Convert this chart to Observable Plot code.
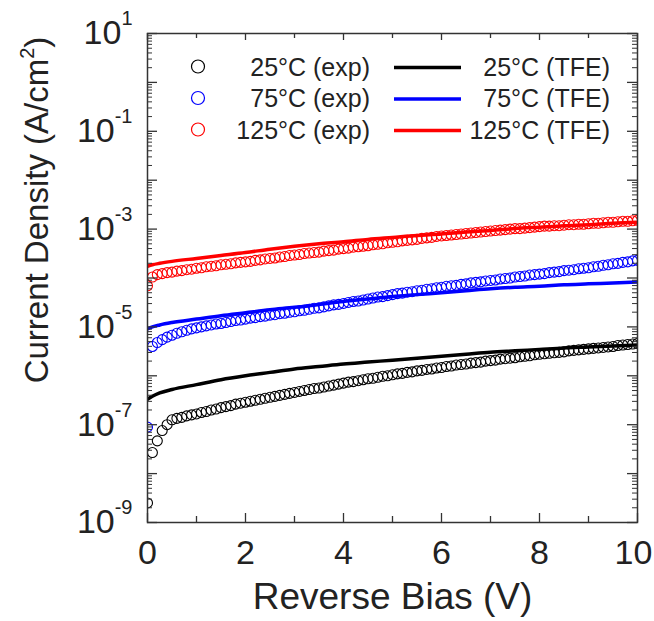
<!DOCTYPE html>
<html>
<head>
<meta charset="utf-8">
<script src="https://cdn.jsdelivr.net/npm/d3@7"></script>
<script src="https://cdn.jsdelivr.net/npm/@observablehq/plot@0.6"></script>
<style>
  body { margin: 0; background: #fff; }
  #chart { width: 654px; height: 621px; }
</style>
</head>
<body>
<div id="chart"></div>
<script>
// ---------- data ----------
const temps = ["25°C", "75°C", "125°C"];
const colors = ["#000000", "#0000ff", "#ff0000"];

// reverse bias of the measured points (V)
const biasExp = [0,0.1,0.2,0.3,0.4,0.5,0.6,0.7,0.8,0.9,
  1,1.1,1.2,1.3,1.4,1.5,1.6,1.7,1.8,1.9,
  2,2.1,2.2,2.3,2.4,2.5,2.6,2.7,2.8,2.9,
  3,3.1,3.2,3.3,3.4,3.5,3.6,3.7,3.8,3.9,
  4,4.1,4.2,4.3,4.4,4.5,4.6,4.7,4.8,4.9,
  5,5.1,5.2,5.3,5.4,5.5,5.6,5.7,5.8,5.9,
  6,6.1,6.2,6.3,6.4,6.5,6.6,6.7,6.8,6.9,
  7,7.1,7.2,7.3,7.4,7.5,7.6,7.7,7.8,7.9,
  8,8.1,8.2,8.3,8.4,8.5,8.6,8.7,8.8,8.9,
  9,9.1,9.2,9.3,9.4,9.5,9.6,9.7,9.8,9.9,
  10];

// measured current density, as log10 of J (A/cm^2)
const exp25Log = [-8.60,-7.57,-7.33,-7.12,-7.00,-6.90,-6.87,-6.85,-6.82,-6.80,
  -6.78,-6.75,-6.73,-6.70,-6.68,-6.65,-6.63,-6.61,-6.58,-6.56,
  -6.54,-6.52,-6.50,-6.48,-6.46,-6.44,-6.42,-6.40,-6.38,-6.36,
  -6.34,-6.32,-6.30,-6.28,-6.26,-6.25,-6.23,-6.21,-6.19,-6.17,
  -6.15,-6.13,-6.12,-6.10,-6.08,-6.06,-6.05,-6.03,-6.01,-6.00,
  -5.98,-5.96,-5.95,-5.93,-5.92,-5.90,-5.89,-5.87,-5.86,-5.84,
  -5.83,-5.81,-5.80,-5.78,-5.77,-5.76,-5.74,-5.73,-5.72,-5.70,
  -5.69,-5.68,-5.66,-5.65,-5.64,-5.63,-5.61,-5.60,-5.59,-5.57,
  -5.56,-5.55,-5.54,-5.53,-5.52,-5.51,-5.49,-5.48,-5.47,-5.46,
  -5.45,-5.44,-5.43,-5.42,-5.41,-5.40,-5.38,-5.37,-5.36,-5.35,
  -5.34];
const exp75Log = [-7.05,-5.40,-5.32,-5.26,-5.21,-5.17,-5.13,-5.10,-5.07,-5.04,
  -5.02,-5.00,-4.98,-4.96,-4.94,-4.93,-4.91,-4.89,-4.87,-4.86,
  -4.84,-4.82,-4.81,-4.79,-4.78,-4.76,-4.75,-4.73,-4.72,-4.70,
  -4.69,-4.67,-4.66,-4.64,-4.62,-4.61,-4.59,-4.57,-4.55,-4.54,
  -4.52,-4.50,-4.48,-4.47,-4.45,-4.43,-4.41,-4.39,-4.38,-4.36,
  -4.34,-4.32,-4.31,-4.29,-4.28,-4.26,-4.25,-4.23,-4.22,-4.20,
  -4.19,-4.17,-4.16,-4.15,-4.13,-4.12,-4.10,-4.09,-4.08,-4.06,
  -4.05,-4.04,-4.02,-4.01,-4.00,-3.98,-3.97,-3.96,-3.94,-3.93,
  -3.92,-3.91,-3.89,-3.88,-3.87,-3.85,-3.84,-3.83,-3.81,-3.80,
  -3.79,-3.77,-3.76,-3.74,-3.73,-3.71,-3.70,-3.68,-3.67,-3.65,
  -3.64];
const exp125Log = [-4.16,-3.98,-3.93,-3.91,-3.89,-3.88,-3.86,-3.85,-3.83,-3.82,
  -3.80,-3.79,-3.77,-3.76,-3.75,-3.73,-3.72,-3.71,-3.69,-3.68,
  -3.67,-3.66,-3.64,-3.63,-3.61,-3.60,-3.59,-3.57,-3.56,-3.54,
  -3.53,-3.52,-3.50,-3.49,-3.48,-3.47,-3.45,-3.44,-3.43,-3.41,
  -3.40,-3.39,-3.37,-3.36,-3.35,-3.34,-3.32,-3.31,-3.30,-3.28,
  -3.27,-3.26,-3.24,-3.23,-3.22,-3.21,-3.19,-3.18,-3.17,-3.15,
  -3.14,-3.13,-3.12,-3.11,-3.10,-3.09,-3.08,-3.07,-3.06,-3.05,
  -3.04,-3.03,-3.02,-3.01,-3.00,-2.99,-2.99,-2.98,-2.97,-2.96,
  -2.95,-2.94,-2.94,-2.93,-2.93,-2.92,-2.91,-2.91,-2.90,-2.90,
  -2.89,-2.88,-2.88,-2.87,-2.86,-2.86,-2.85,-2.84,-2.84,-2.83,
  -2.82];

// TFE model curves
const biasTFE = [0,0.1,0.25,0.5,1,1.5,2,2.5,3,3.5,4,4.5,5,5.5,6,6.5,7,7.5,8,8.5,9,9.5,10];
const tfe25Log  = [-6.48,-6.42,-6.35,-6.28,-6.18,-6.08,-6.00,-5.93,-5.86,-5.81,-5.76,-5.72,-5.68,-5.64,-5.60,-5.56,-5.52,-5.49,-5.46,-5.43,-5.41,-5.39,-5.37];
const tfe75Log  = [-5.04,-5.00,-4.96,-4.91,-4.84,-4.77,-4.71,-4.65,-4.60,-4.54,-4.48,-4.43,-4.38,-4.34,-4.30,-4.26,-4.22,-4.19,-4.17,-4.14,-4.12,-4.10,-4.08];
const tfe125Log = [-3.76,-3.73,-3.70,-3.66,-3.60,-3.54,-3.48,-3.41,-3.35,-3.30,-3.26,-3.21,-3.17,-3.13,-3.10,-3.06,-3.03,-2.99,-2.96,-2.93,-2.91,-2.88,-2.86];

// axis ticks / labels
const xTickLabels = [0, 2, 4, 6, 8, 10];
const xMinorTicks = [1, 3, 5, 7, 9];
const yTickLabels = [1e-9, 1e-7, 1e-5, 1e-3, 1e-1, 1e1];
const yDecades = [1e-9,1e-8,1e-7,1e-6,1e-5,1e-4,1e-3,1e-2,1e-1,1e0,1e1];
const yMinorTicks = yDecades.slice(0, -1).flatMap(d => [2,3,4,5,6,7,8,9].map(k => k * d));
const xTitle = "Reverse Bias (V)";
const yTitle = "Current Density (A/cm";

// ---------- tables ----------
const expRows = [];
[exp25Log, exp75Log, exp125Log].forEach((arr, k) =>
  arr.forEach((v, i) => expRows.push({V: biasExp[i], J: Math.pow(10, v), T: temps[k]})));
const tfeRows = [];
[tfe25Log, tfe75Log, tfe125Log].forEach((arr, k) =>
  arr.forEach((v, i) => tfeRows.push({V: biasTFE[i], J: Math.pow(10, v), T: temps[k]})));

// ---------- plot ----------
const W = 654, H = 621, mL = 147, mR = 17, mT = 33, mB = 99;
const fw = W - mL - mR, fh = H - mT - mB;
const axisColor = "#333";

const chart = Plot.plot({
  width: W, height: H,
  marginLeft: mL, marginRight: mR, marginTop: mT, marginBottom: mB,
  style: {fontFamily: "'Liberation Sans', Arial, sans-serif", color: "#222", background: "#fff", overflow: "visible"},
  x: {domain: [0, 10], label: null},
  y: {type: "log", domain: [1e-9, 10], label: null},
  color: {domain: temps, range: colors},
  marks: [
    Plot.lineY(tfeRows, {x: "V", y: "J", stroke: "T", z: "T", strokeWidth: 3.5, curve: "monotone-x", clip: true}),
    Plot.dot(expRows, {x: "V", y: "J", stroke: "T", r: 5, strokeWidth: 1.1, fill: "none", clip: true}),
    Plot.frame({stroke: axisColor, strokeWidth: 1.5}),
    // inward ticks on all four sides
    Plot.tickX(xTickLabels, {x: d => d, insetTop: fh - 9, stroke: axisColor, strokeWidth: 1.3}),
    Plot.tickX(xMinorTicks, {x: d => d, insetTop: fh - 6, stroke: axisColor, strokeWidth: 1.3}),
    Plot.tickX(xTickLabels, {x: d => d, insetBottom: fh - 7, stroke: axisColor, strokeWidth: 1.3}),
    Plot.tickX(xMinorTicks, {x: d => d, insetBottom: fh - 5, stroke: axisColor, strokeWidth: 1.3}),
    Plot.tickY(yDecades, {y: d => d, insetRight: fw - 10, stroke: axisColor, strokeWidth: 1.3}),
    Plot.tickY(yMinorTicks, {y: d => d, insetRight: fw - 5, stroke: axisColor, strokeWidth: 1}),
    Plot.tickY(yDecades, {y: d => d, insetLeft: fw - 10, stroke: axisColor, strokeWidth: 1.3}),
    Plot.tickY(yMinorTicks, {y: d => d, insetLeft: fw - 5, stroke: axisColor, strokeWidth: 1}),
    Plot.axisX({ticks: xTickLabels, tickSize: 0, tickPadding: 17, fontSize: 34, tickFormat: d => String(d), label: null}),
    Plot.axisY({ticks: yTickLabels, tickSize: 0, tickPadding: 15, fontSize: 34,
      tickFormat: d => String(Math.round(Math.log10(d))), label: null}),
    Plot.text([xTitle], {frameAnchor: "bottom", dy: 86, fontSize: 37, text: d => d, fill: "#222", textAnchor: "middle"}),
    Plot.text([yTitle], {frameAnchor: "left", dx: -110, dy: -68, rotate: -90, fontSize: 33, text: d => d, fill: "#222", textAnchor: "middle"})
  ]
});

const svg = d3.select(chart);

// keep the last x tick label inside the picture, as in the reference
svg.selectAll('g[aria-label="x-axis tick label"] text')
  .filter(function () { return this.textContent === "10"; })
  .attr("dx", -4);

// superscript exponents on the y tick labels
svg.selectAll('g[aria-label="y-axis tick label"] text').each(function () {
  const e = this.textContent;
  this.textContent = "10";
  d3.select(this).append("tspan").attr("dy", -19).attr("font-size", 20).text(e);
});

// superscript 2 in the y title
svg.selectAll("text").filter(function () { return this.textContent === yTitle; }).each(function () {
  const t = d3.select(this);
  t.append("tspan").attr("dy", -14).attr("font-size", 20).text("2");
  t.append("tspan").attr("dy", 14).text(")");
});

// legend
const lg = svg.append("g").attr("font-size", 25).attr("fill", "#222")
  .attr("font-family", "'Liberation Sans', Arial, sans-serif");
temps.forEach((t, i) => {
  const y = 66.5 + i * 31.5;
  lg.append("circle").attr("cx", 198).attr("cy", y).attr("r", 6.5)
    .attr("fill", "none").attr("stroke", colors[i]).attr("stroke-width", 1.2);
  lg.append("text").attr("x", 370).attr("y", y).attr("dy", "0.36em")
    .attr("text-anchor", "end").text(`${t} (exp)`);
  lg.append("line").attr("x1", 394).attr("x2", 461).attr("y1", y + 1).attr("y2", y + 1)
    .attr("stroke", colors[i]).attr("stroke-width", 3.5);
  lg.append("text").attr("x", 610).attr("y", y).attr("dy", "0.36em")
    .attr("text-anchor", "end").text(`${t} (TFE)`);
});

document.getElementById("chart").appendChild(chart);
</script>
</body>
</html>
